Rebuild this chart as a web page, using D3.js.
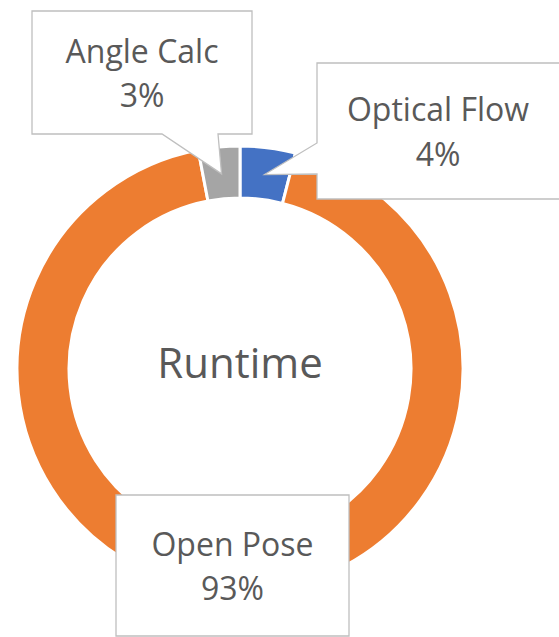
<!DOCTYPE html>
<html>
<head>
<meta charset="utf-8">
<script src="https://cdn.jsdelivr.net/npm/d3@7"></script>
<style>
	body { margin: 0; background: #fff; }
	text { font-family: "Open Sans", sans-serif; fill: #595959; }
</style>
</head>
<body>
<div id="chart-area"></div>
<script>

// chart data
let labels = ["Optical Flow", "Open Pose", "Angle Calc"];
let values = [4, 93, 3];
let colors = ["#4472C4", "#ED7D31", "#A5A5A5"];
let title = "Runtime";

let width = 559, height = 637;
let cx = 240, cy = 369;
let outerR = 223, innerR = 171;

let svg = d3.select("#chart-area").append("svg")
	.attr("width", width)
	.attr("height", height);

let pie = d3.pie()
	.value(d => d.value)
	.sort(null);

let arc = d3.arc()
	.innerRadius(innerR)
	.outerRadius(outerR);

let data = labels.map((l, i) => ({label: l, value: values[i], color: colors[i]}));
let arcs = pie(data);

let donut = svg.append("g")
	.attr("transform", `translate(${cx},${cy})`);

donut.selectAll("path")
	.data(arcs)
	.enter()
	.append("path")
	.attr("d", arc)
	.attr("fill", d => d.data.color)
	.attr("stroke", "#fff")
	.attr("stroke-width", 3);

// centre title
svg.append("text")
	.attr("x", cx)
	.attr("y", cy + 9)
	.attr("text-anchor", "middle")
	.attr("font-size", 42)
	.text(title);

// callout boxes - layout only, the tip goes to the slice centroid
let boxes = {
	"Angle Calc": {x0: 32, y0: 11, x1: 252, y1: 134, side: "bottom", a: 162, b: 218},
	"Optical Flow": {x0: 317, y0: 63, x1: 580, y1: 199, side: "left", a: 143, b: 174},
	"Open Pose": {x0: 116, y0: 495, x1: 349, y1: 636, side: "none"}
};

function calloutPath(bx, tip) {
	let p = d3.path();
	p.moveTo(bx.x0, bx.y0);
	p.lineTo(bx.x1, bx.y0);
	p.lineTo(bx.x1, bx.y1);
	if (bx.side == "bottom") {
		p.lineTo(bx.b, bx.y1);
		p.lineTo(tip[0], tip[1]);
		p.lineTo(bx.a, bx.y1);
		p.lineTo(bx.x0, bx.y1);
		p.closePath();
	} else if (bx.side == "left") {
		p.lineTo(bx.x0, bx.y1);
		p.lineTo(bx.x0, bx.b);
		p.lineTo(tip[0], tip[1]);
		p.lineTo(bx.x0, bx.a);
		p.closePath();
	} else {
		p.lineTo(bx.x0, bx.y1);
		p.closePath();
	}
	return p.toString();
}

let labelArc = d3.arc()
	.innerRadius(innerR + 25)
	.outerRadius(innerR + 25);

let callouts = svg.selectAll(".callout")
	.data(arcs)
	.enter()
	.append("g")
	.attr("class", "callout");

callouts.append("path")
	.attr("d", d => {
		let c = labelArc.centroid(d);
		return calloutPath(boxes[d.data.label], [cx + c[0], cy + c[1]]);
	})
	.attr("fill", "#fff")
	.attr("stroke", "#BFBFBF")
	.attr("stroke-width", 1.3);

let midX = b => (b.x0 + Math.min(b.x1, width)) / 2;
let midY = b => (b.y0 + b.y1) / 2;

callouts.append("text")
	.attr("x", d => midX(boxes[d.data.label]))
	.attr("y", d => midY(boxes[d.data.label]) - 10)
	.attr("text-anchor", "middle")
	.attr("font-size", 32)
	.text(d => d.data.label);

callouts.append("text")
	.attr("x", d => midX(boxes[d.data.label]))
	.attr("y", d => midY(boxes[d.data.label]) + 34.5)
	.attr("text-anchor", "middle")
	.attr("font-size", 32)
	.text(d => d3.format(".0%")(d.data.value / d3.sum(values)));

</script>
</body>
</html>
